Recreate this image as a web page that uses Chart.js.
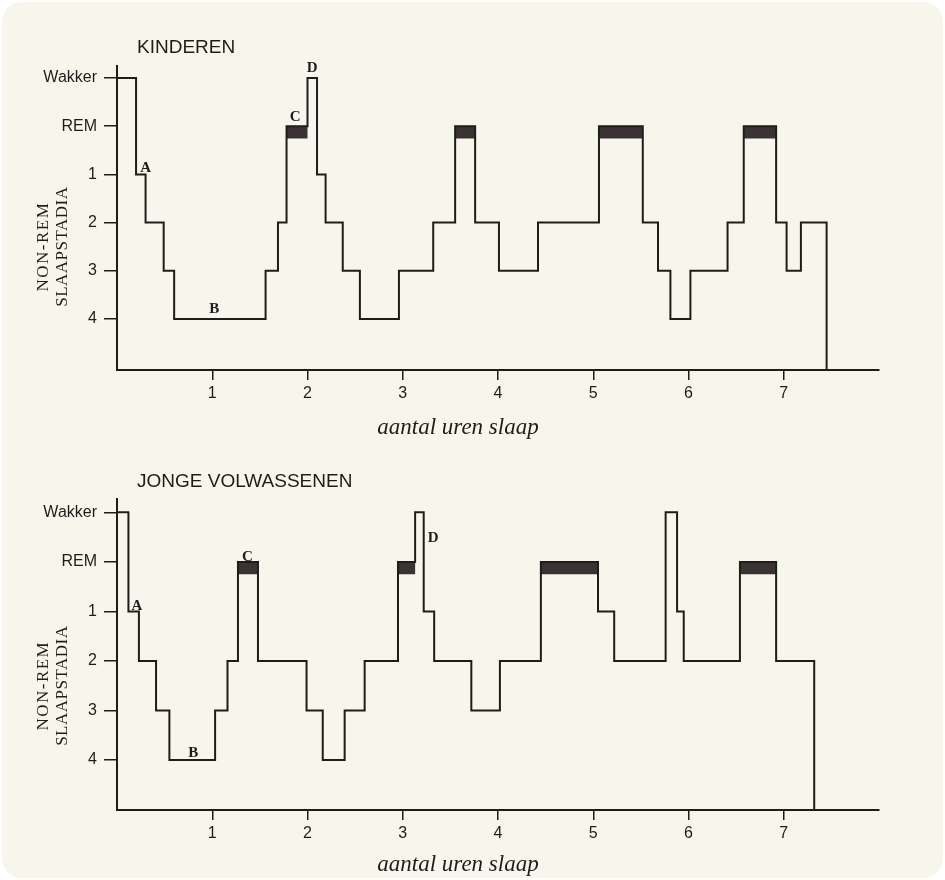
<!DOCTYPE html>
<html>
<head>
<meta charset="utf-8">
<script src="https://cdn.jsdelivr.net/npm/chart.js@4.4.1/dist/chart.umd.min.js"></script>
<style>
  html, body { margin: 0; padding: 0; background: #ffffff; }
  #kaart { position: absolute; left: 2px; top: 2px; width: 941px; height: 876px; border-radius: 20px; background: #f7f6ec; }
  .vak { position: absolute; left: 0; width: 945px; height: 440px; }
</style>
</head>
<body>
<div id="kaart"></div>
<div class="vak" style="top:0"><canvas id="kinderen"></canvas></div>
<div class="vak" style="top:440px"><canvas id="volwassenen"></canvas></div>

<script>
// slaapstadia, van boven naar beneden (index = positie op de y-as)
const stageLabels = ['Wakker', 'REM', '1', '2', '3', '4'];
const hourTicks = [1, 2, 3, 4, 5, 6, 7];

// KINDEREN: begin van elke fase (uren) en het stadium (index in stageLabels)
const kindStart = [0, 0.20, 0.30, 0.49, 0.60, 1.56, 1.69, 1.78, 2.00, 2.10,
                   2.19, 2.37, 2.55, 2.96, 3.32, 3.55, 3.76, 4.01, 4.42, 5.06,
                   5.52, 5.68, 5.81, 6.02, 6.41, 6.58, 6.92, 7.03, 7.18];
const kindStage = [0, 2, 3, 4, 5, 4, 3, 1, 0, 2,
                   3, 4, 5, 4, 3, 1, 3, 4, 3, 1,
                   3, 4, 5, 4, 3, 1, 3, 4, 3];
const kindEnd = 7.45;
const kindLetters = [['A', 0.30, 1.87], ['B', 1.02, 4.79], ['C', 1.87, 0.81], ['D', 2.05, -0.21]];

// JONGE VOLWASSENEN
const volwStart = [0, 0.12, 0.23, 0.41, 0.55, 1.03, 1.16, 1.27, 1.48, 1.99,
                   2.16, 2.39, 2.60, 2.95, 3.13, 3.22, 3.33, 3.72, 4.02, 4.45,
                   5.05, 5.22, 5.76, 5.88, 5.95, 6.54, 6.92];
const volwStage = [0, 2, 3, 4, 5, 4, 3, 1, 3, 4,
                   5, 4, 3, 1, 0, 2, 3, 4, 3, 1,
                   2, 3, 0, 2, 3, 1, 3];
const volwEnd = 7.32;
const volwLetters = [['A', 0.21, 1.90], ['B', 0.80, 4.86], ['C', 1.37, 0.91], ['D', 3.32, 0.52]];

const INK = '#1f1d1c';
const REM_INK = '#3b3333';
const SANS = '"Liberation Sans", Arial, sans-serif';
const SERIF = '"Liberation Serif", "Times New Roman", serif';

// trap-lijn: elk punt is het begin van een fase, laatste punt zakt naar de x-as
function stepPoints(start, stage, end, bottom) {
    const pts = start.map((t, i) => ({ x: t, y: stage[i] }));
    pts.push({ x: end, y: stage[stage.length - 1] });
    pts.push({ x: end, y: bottom });
    return pts;
}

// zwarte balkjes onder de REM-lijn
function remPoints(start, stage, end) {
    const pts = [];
    stage.forEach((s, i) => {
        if (s !== 1) return;
        const b = i + 1 < start.length ? start[i + 1] : end;
        pts.push({ x: start[i], y: 1.13 }, { x: b, y: 1.13 }, { x: b, y: null });
    });
    return pts;
}

const decor = {
    id: 'decor',
    afterDraw(chart, args, o) {
        const { ctx, chartArea: a, scales: { x, y } } = chart;
        ctx.save();
        ctx.fillStyle = INK;

        ctx.font = '19px ' + SANS;
        ctx.textAlign = 'left';
        ctx.textBaseline = 'middle';
        ctx.fillText(o.title, a.left + 20, a.top - o.titleGap);

        ctx.font = 'italic 23px ' + SERIF;
        ctx.textAlign = 'center';
        ctx.fillText('aantal uren slaap', a.left + 341, a.bottom + o.xTitleGap);

        // y-titel, twee regels gedraaid
        const yc = y.getPixelForValue(3.5);
        ctx.font = '17px ' + SERIF;
        [['NON-REM', 44, '1.5px'], ['SLAAPSTADIA', 63, '0.5px']].forEach(([t, px, ls]) => {
            ctx.save();
            ctx.translate(px, yc);
            ctx.rotate(-Math.PI / 2);
            ctx.letterSpacing = ls;
            ctx.fillText(t, 0, 0);
            ctx.restore();
        });

        ctx.font = 'bold 15px ' + SERIF;
        o.letters.forEach(([t, lx, ly]) => {
            ctx.fillText(t, x.getPixelForValue(lx), y.getPixelForValue(ly));
        });
        ctx.restore();
    }
};

function makeChart(id, start, stage, end, letters, yMin, yMax, padTop, title, titleGap, xTitleGap) {
    new Chart(document.getElementById(id), {
        type: 'line',
        data: {
            datasets: [{
                data: stepPoints(start, stage, end, yMax),
                stepped: 'before',
                borderColor: INK,
                borderWidth: 2,
                pointRadius: 0,
                fill: false,
                clip: false
            }, {
                data: remPoints(start, stage, end),
                borderColor: REM_INK,
                borderWidth: 12,
                borderCapStyle: 'butt',
                pointRadius: 0,
                spanGaps: false,
                fill: false
            }]
        },
        options: {
            responsive: true,
            maintainAspectRatio: false,
            animation: false,
            layout: { padding: { top: padTop, right: 66, left: 0, bottom: 0 } },
            plugins: {
                legend: { display: false },
                tooltip: { enabled: false },
                decor: { title: title, titleGap: titleGap, xTitleGap: xTitleGap, letters: letters }
            },
            scales: {
                x: {
                    type: 'linear',
                    min: 0, max: 8,
                    afterFit: s => { s.height = 70; },
                    afterBuildTicks: s => { s.ticks = hourTicks.map(v => ({ value: v })); },
                    grid: { drawOnChartArea: false, drawTicks: true, tickLength: 10, color: INK, lineWidth: 1.5 },
                    border: { display: true, color: INK, width: 2 },
                    ticks: { color: INK, font: { family: SANS, size: 16 }, padding: 4, maxRotation: 0 }
                },
                y: {
                    type: 'linear',
                    reverse: true,
                    min: yMin, max: yMax,
                    afterFit: s => { s.width = 117; },
                    afterBuildTicks: s => { s.ticks = stageLabels.map((l, i) => ({ value: i })); },
                    grid: { drawOnChartArea: false, drawTicks: true, tickLength: 13, color: INK, lineWidth: 1.5 },
                    border: { display: true, color: INK, width: 2 },
                    ticks: {
                        color: INK,
                        font: { family: SANS, size: 16 },
                        padding: 7,
                        callback: v => stageLabels[v]
                    }
                }
            }
        },
        plugins: [decor]
    });
}

makeChart('kinderen', kindStart, kindStage, kindEnd, kindLetters, -0.25, 6.06, 66, 'KINDEREN', 18, 58);
makeChart('volwassenen', volwStart, volwStage, volwEnd, volwLetters, -0.27, 6.01, 59, 'JONGE VOLWASSENEN', 17, 55);
</script>
</body>
</html>
